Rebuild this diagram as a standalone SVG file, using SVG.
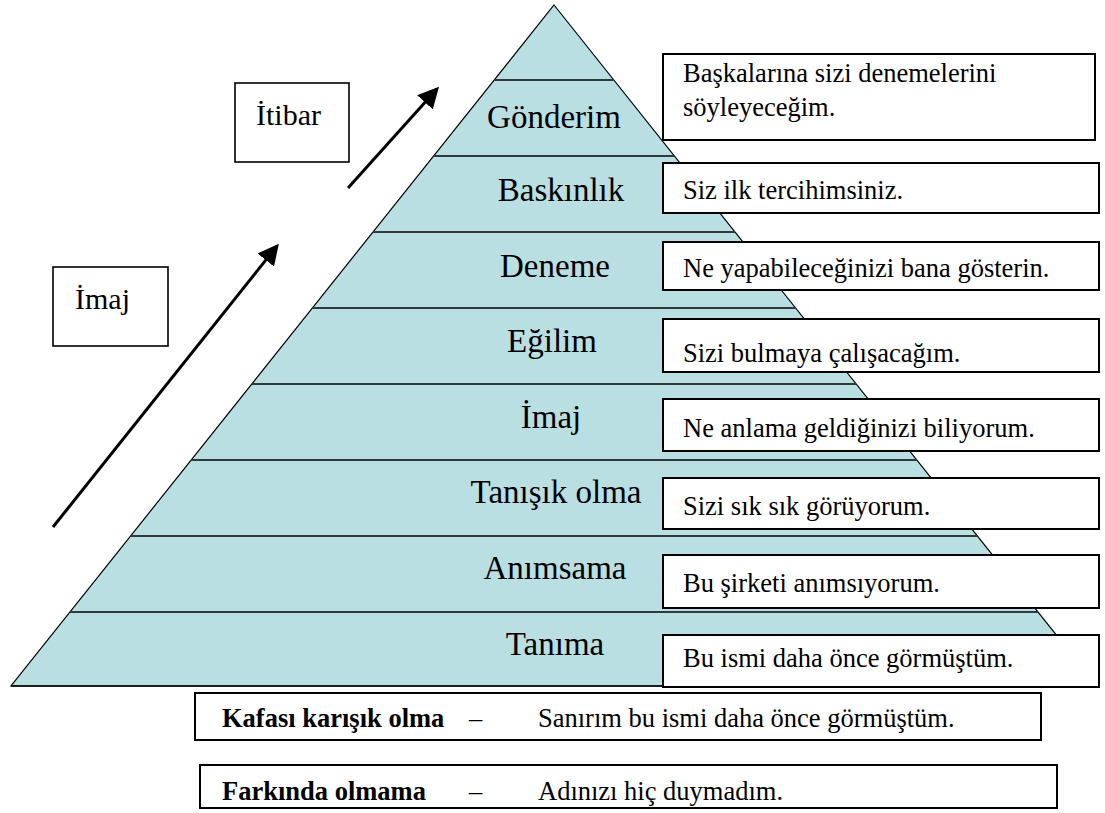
<svg xmlns="http://www.w3.org/2000/svg" width="1105" height="813" viewBox="0 0 1105 813">
<defs>
<style>
.lbl{font-family:"Liberation Serif","Times New Roman",serif;font-size:33px;fill:#000;text-anchor:middle}
.txt{font-family:"Liberation Serif","Times New Roman",serif;font-size:26.5px;fill:#000}
.bold{font-weight:bold}
.side{font-family:"Liberation Serif","Times New Roman",serif;font-size:30px;fill:#000}
.box{fill:#fff;stroke:#000;stroke-width:2}
.sbox{fill:#fff;stroke:#000;stroke-width:1.6}
.tier{stroke:#2e3a3b;stroke-width:2.2}
.arr{stroke:#000;stroke-width:3;fill:none}
</style>
<marker id="ah" markerWidth="7" markerHeight="7" refX="6" refY="3.5" orient="auto" markerUnits="strokeWidth">
<path d="M0,0 L7,3.5 L0,7 Z" fill="#000"/>
</marker>
</defs>
<rect width="1105" height="813" fill="#fff"/>
<g id="pyramid">
<polygon points="554,5 1097,686 11,686" fill="#B9DFE2" stroke="#000" stroke-width="1.2"/>
<line class="tier" x1="494.2" y1="80" x2="613.8" y2="80"/>
<line class="tier" x1="433.6" y1="156" x2="674.4" y2="156"/>
<line class="tier" x1="373" y1="232" x2="735" y2="232"/>
<line class="tier" x1="312.4" y1="308" x2="795.6" y2="308"/>
<line class="tier" x1="251.8" y1="384" x2="856.2" y2="384"/>
<line class="tier" x1="191.2" y1="460" x2="916.8" y2="460"/>
<line class="tier" x1="130.6" y1="536" x2="977.4" y2="536"/>
<line class="tier" x1="70" y1="612" x2="1038" y2="612"/>
<line x1="11" y1="686" x2="1097" y2="686" stroke="#000" stroke-width="1.5"/>
</g>
<g id="tier-labels">
<text class="lbl" x="554" y="128">Gönderim</text>
<text class="lbl" x="561" y="201">Baskınlık</text>
<text class="lbl" x="555" y="277">Deneme</text>
<text class="lbl" x="552" y="352">Eğilim</text>
<text class="lbl" x="551" y="428">İmaj</text>
<text class="lbl" x="556" y="503">Tanışık olma</text>
<text class="lbl" x="555" y="579">Anımsama</text>
<text class="lbl" x="555" y="655">Tanıma</text>
</g>
<g id="right-boxes">
<g id="r1"><rect class="box" x="663" y="54" width="432" height="86"/><text class="txt" x="683" y="82">Başkalarına sizi denemelerini</text><text class="txt" x="683" y="116">söyleyeceğim.</text></g>
<g id="r2"><rect class="box" x="663" y="163" width="436" height="50"/><text class="txt" x="683" y="199">Siz ilk tercihimsiniz.</text></g>
<g id="r3"><rect class="box" x="663" y="242" width="436" height="48"/><text class="txt" x="683" y="277">Ne yapabileceğinizi bana gösterin.</text></g>
<g id="r4"><rect class="box" x="663" y="319" width="436" height="53"/><text class="txt" x="683" y="362">Sizi bulmaya çalışacağım.</text></g>
<g id="r5"><rect class="box" x="663" y="399" width="436" height="52"/><text class="txt" x="683" y="437">Ne anlama geldiğinizi biliyorum.</text></g>
<g id="r6"><rect class="box" x="663" y="478" width="436" height="51"/><text class="txt" x="683" y="515">Sizi sık sık görüyorum.</text></g>
<g id="r7"><rect class="box" x="663" y="555" width="436" height="53"/><text class="txt" x="683" y="592">Bu şirketi anımsıyorum.</text></g>
<g id="r8"><rect class="box" x="663" y="635" width="436" height="52"/><text class="txt" x="683" y="667">Bu ismi daha önce görmüştüm.</text></g>
</g>
<g id="bottom-boxes">
<g id="b1"><rect class="box" x="195" y="693" width="846" height="47"/><text class="txt bold" x="222" y="727">Kafası karışık olma</text><text class="txt" x="469" y="727">–</text><text class="txt" x="538" y="727">Sanırım bu ismi daha önce görmüştüm.</text></g>
<g id="b2"><rect class="box" x="200" y="765" width="857" height="43"/><text class="txt bold" x="222" y="800">Farkında olmama</text><text class="txt" x="469" y="800">–</text><text class="txt" x="538" y="800">Adınızı hiç duymadım.</text></g>
</g>
<g id="side-itibar"><rect class="sbox" x="235" y="83" width="114" height="79"/><text class="side" x="256" y="125">İtibar</text></g>
<g id="side-imaj"><rect class="sbox" x="53" y="267" width="115" height="79"/><text class="side" x="75" y="309">İmaj</text></g>
<g id="connectors">
<line class="arr" x1="348" y1="188" x2="437" y2="89" marker-end="url(#ah)"/>
<line class="arr" x1="53" y1="527" x2="277" y2="246" marker-end="url(#ah)"/>
</g>
</svg>
